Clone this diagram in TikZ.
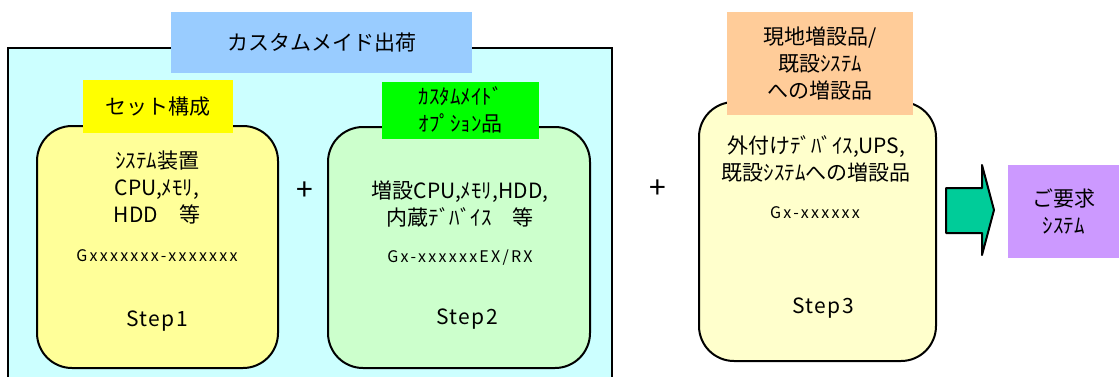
\documentclass[tikz,border=0pt]{standalone}
\usepackage{fontspec}
\setmainfont{Noto Sans CJK JP}
\newfontfamily\codefont[LetterSpace=14]{Noto Sans CJK JP}
\newfontfamily\stepfont[LetterSpace=7]{Noto Sans CJK JP}
\usepackage{tikz}
\usetikzlibrary{positioning}

\definecolor{shipcyan}{HTML}{CCFFFF}
\definecolor{titleblue}{HTML}{99CCFF}
\definecolor{setyellow}{HTML}{FFFF00}
\definecolor{stepyellow}{HTML}{FFFF99}
\definecolor{optgreen}{HTML}{00FF00}
\definecolor{stepgreen}{HTML}{CCFFCC}
\definecolor{steppale}{HTML}{FFFFCC}
\definecolor{localorange}{HTML}{FFCC99}
\definecolor{arrowgreen}{HTML}{00CC99}
\definecolor{reqpurple}{HTML}{CC99FF}

\tikzset{
	stepbox/.style={draw=black,line width=2pt,rounded corners=35pt},
	labelbox/.style={inner sep=0pt,align=center,font=\fontsize{21}{27}\selectfont},
	bodytext/.style={align=center,inner sep=0pt,font=\fontsize{21}{27}\selectfont},
	codetext/.style={inner sep=0pt,font=\fontsize{16}{20}\codefont},
	steptext/.style={inner sep=0pt,font=\fontsize{21}{24}\stepfont},
	plussign/.style={inner sep=0pt,font=\fontsize{30}{30}\selectfont}
}

\begin{document}
\begin{tikzpicture}[x=1pt,y=-1pt]
	\useasboundingbox (0,0) rectangle (1119,376);
	\clip (0,0) rectangle (1119,376);

	% custom-made shipment frame
	\draw[fill=shipcyan,line width=2pt] (8,48) rectangle (612,392);

	% the three steps
	\node[stepbox,fill=stepyellow,minimum width=241pt,minimum height=242pt] (step1) at (157.5,247) {};
	\node[stepbox,fill=stepgreen,minimum width=262pt,minimum height=241pt] (step2) at (459,247.5) {};
	\node[stepbox,fill=steppale,minimum width=237pt,minimum height=259pt] (step3) at (817.5,231.5) {};

	% headings
	\node[labelbox,fill=titleblue,minimum width=301pt,minimum height=61pt] (ship) at (321.5,42.5) {カスタムメイド出荷};
	\node[labelbox,fill=setyellow,minimum width=150pt,minimum height=53pt] (setlbl) at (158,106.5) {セット構成};
	\node[labelbox,fill=optgreen,minimum width=157pt,minimum height=57pt] (optlbl) at (460.5,110) {ｶｽﾀﾑﾒｲﾄﾞ\\ｵﾌﾟｼｮﾝ品};
	\node[labelbox,fill=localorange,minimum width=186pt,minimum height=103pt] (locallbl) at (820,63.5) {現地増設品/\\既設ｼｽﾃﾑ\\への増設品};

	% step contents
	\node[bodytext] (s1body) at (157,188) {ｼｽﾃﾑ装置\\CPU,ﾒﾓﾘ,\\HDD　等};
	\node[codetext] (s1code) at (157,256) {Gxxxxxxx-xxxxxxx};
	\node[steptext] (s1name) at (157,321) {Step1};

	\node[bodytext] (s2body) at (460,204) {増設CPU,ﾒﾓﾘ,HDD,\\内蔵ﾃﾞﾊﾞｲｽ　等};
	\node[codetext] (s2code) at (460,258) {Gx-xxxxxxEX/RX};
	\node[steptext] (s2name) at (467,319) {Step2};

	\node[bodytext] (s3body) at (816,159) {外付けﾃﾞﾊﾞｲｽ,UPS,\\既設ｼｽﾃﾑへの増設品};
	\node[codetext] (s3code) at (815,213) {Gx-xxxxxx};
	\node[steptext] (s3name) at (823,308) {Step3};

	% plus signs
	\node[plussign] (plus1) at (305,191) {+};
	\node[plussign] (plus2) at (658,189) {+};

	% result
	\node[labelbox,fill=reqpurple,minimum width=111pt,minimum height=93pt] (req) at (1063.5,211.5) {ご要求\\ｼｽﾃﾑ};
	\draw[fill=arrowgreen,line width=2pt,line join=round]
		(946,188) -- (982,188) -- (982,165) -- (994,210) -- (982,255) -- (982,233) -- (946,233) -- cycle;

\end{tikzpicture}
\end{document}
